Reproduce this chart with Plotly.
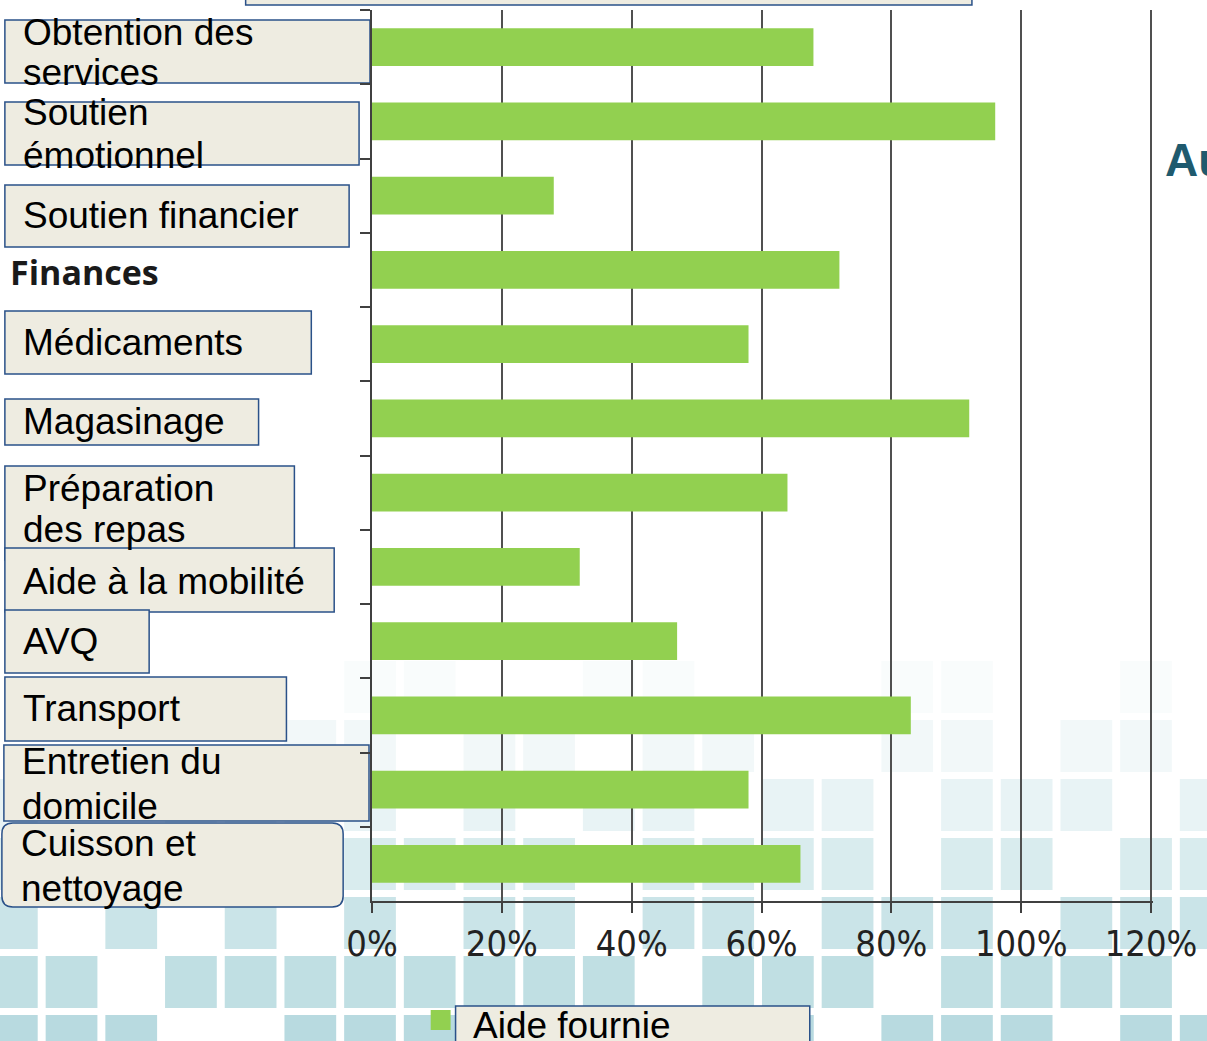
import plotly.graph_objects as go

# ---------------- data ----------------
categories = [
    "Obtention des<br>services",
    "Soutien<br>émotionnel",
    "Soutien financier",
    "Finances",
    "Médicaments",
    "Magasinage",
    "Préparation<br>des repas",
    "Aide à la mobilité",
    "AVQ",
    "Transport",
    "Entretien du<br>domicile",
    "Cuisson et<br>nettoyage",
]
values = [0.68, 0.96, 0.28, 0.72, 0.58, 0.92, 0.64, 0.32, 0.47, 0.83, 0.58, 0.66]
x_tick_values = [0, 0.2, 0.4, 0.6, 0.8, 1.0, 1.2]
x_tick_labels = ["0%", "20%", "40%", "60%", "80%", "100%", "120%"]
series_name = "Aide fournie"
side_text = "Au"

# ---------------- geometry helpers (pixels -> paper) ----------------
W, H = 1207, 1041
L, T, B = 372, 10, 901
R = 1157          # plot right edge (2px past the 120% gridline so it is kept)
X120 = 1155       # pixel of the 120% gridline
x_max = 1.2 * (R - L) / (X120 - L)


def px(x):
    return (x - L) / (R - L)


def py(y):
    return (B - y) / (B - T)


full_names = [c.replace("<br>", " ") for c in categories]

GREEN = "#92D050"
BOX_FILL = "#EEECE1"
BOX_LINE = "#2A5189"
AX = "#404040"

fig = go.Figure()
fig.add_trace(go.Bar(
    x=values, y=full_names, orientation="h",
    marker=dict(color=GREEN, line=dict(width=0)),
    name=series_name, showlegend=False, hoverinfo="skip",
))

shapes = []
annotations = []

# decorative background squares (slide template)
pattern = [
    "000000110011000110010",
    "000001101101100110110",
    "100111101011011011101",
    "110111111101111011011",
    "101010101101101110111",
    "110111111110111011110",
    "111001111101110111011",
]
row_op = [0.06, 0.12, 0.22, 0.36, 0.50, 0.60, 0.68]
for r, row in enumerate(pattern):
    for c, ch in enumerate(row):
        if ch == "1":
            x0 = -16 + 60 * c
            y0 = 661 + 59 * r
            shapes.append(dict(
                type="rect", xref="paper", yref="paper", layer="below",
                x0=px(x0), x1=px(x0 + 52), y0=py(y0), y1=py(y0 + 52),
                fillcolor="rgba(150,201,209,%.2f)" % row_op[r], line=dict(width=0),
            ))

# label layout: (box x0, x1, y0, y1, text x, line centers, rounded)
label_layout = [
    (3, 370, 20, 83, 19, [32, 72], False),
    (3, 359, 102, 165, 19, [112, 155], False),
    (3, 349, 185, 247, 19, [216], False),
    None,
    (3, 311, 311, 374, 19, [342], False),
    (3, 258, 399, 445, 19, [421], False),
    (3, 294, 466, 560, 19, [488, 529], False),
    (3, 334, 548, 612, 19, [581], False),
    (3, 148, 610, 673, 19, [641], False),
    (3, 286, 677, 741, 19, [708], False),
    (2, 369, 745, 821, 18, [762, 806], False),
    (0, 343, 823, 907, 17, [843, 888], True),
]

label_font = dict(family="Liberation Sans, Arial, sans-serif", size=37, color="#000000")


def rounded_path(x0, x1, y0, y1, rad):
    X = lambda v: "%.5f" % px(v)
    Y = lambda v: "%.5f" % py(v)
    return ("M {a},{b} L {c},{b} Q {d},{b} {d},{e} L {d},{f} Q {d},{g} {c},{g} "
            "L {a},{g} Q {h},{g} {h},{f} L {h},{e} Q {h},{b} {a},{b} Z").format(
        a=X(x0 + rad), b=Y(y0), c=X(x1 - rad), d=X(x1), e=Y(y0 + rad),
        f=Y(y1 - rad), g=Y(y1), h=X(x0))


for cat, spec in zip(categories, label_layout):
    lines = cat.split("<br>")
    if spec is None:
        annotations.append(dict(
            xref="paper", yref="paper", x=px(6), y=py(272), xanchor="left", yanchor="middle",
            text="<b>%s</b>" % cat, showarrow=False,
            font=dict(family="Open Sans, Liberation Sans, sans-serif", size=34, color="#1a1a1a"),
        ))
        continue
    bx0, bx1, by0, by1, tx, centers, rounded = spec
    if rounded:
        shapes.append(dict(type="path", xref="paper", yref="paper", layer="below",
                           path=rounded_path(bx0, bx1, by0, by1, 11),
                           fillcolor=BOX_FILL, line=dict(color=BOX_LINE, width=1.5)))
    else:
        shapes.append(dict(type="rect", xref="paper", yref="paper", layer="below",
                           x0=px(bx0), x1=px(bx1), y0=py(by1), y1=py(by0),
                           fillcolor=BOX_FILL, line=dict(color=BOX_LINE, width=1.5)))
    for ln, cy in zip(lines, centers):
        annotations.append(dict(
            xref="paper", yref="paper", x=px(tx), y=py(cy), xanchor="left", yanchor="middle",
            text=ln, showarrow=False, font=label_font,
        ))

# partial box at top (cut off by the frame)
shapes.append(dict(type="rect", xref="paper", yref="paper", layer="below",
                   x0=px(245), x1=px(975), y0=py(5), y1=py(-30),
                   fillcolor=BOX_FILL, line=dict(color=BOX_LINE, width=1.5)))

# legend (manual)
shapes.append(dict(type="rect", xref="paper", yref="paper", layer="below",
                   x0=px(431), x1=px(451), y0=py(1030), y1=py(1010),
                   fillcolor=GREEN, line=dict(width=0)))
shapes.append(dict(type="rect", xref="paper", yref="paper", layer="below",
                   x0=px(456), x1=px(812), y0=py(1070), y1=py(1006),
                   fillcolor=BOX_FILL, line=dict(color=BOX_LINE, width=1.5)))
annotations.append(dict(
    xref="paper", yref="paper", x=px(472), y=py(1025), xanchor="left", yanchor="middle",
    text=series_name, showarrow=False, font=label_font,
))

# cut-off side title
annotations.append(dict(
    xref="paper", yref="paper", x=px(1167), y=py(160), xanchor="left", yanchor="middle",
    text="<b>%s</b>" % side_text, showarrow=False,
    font=dict(family="Liberation Sans, Arial, sans-serif", size=46, color="#1F5A6E"),
))

fig.update_layout(
    width=W, height=H,
    margin=dict(l=L, r=W - R, t=T, b=H - B, pad=0),
    paper_bgcolor="white", plot_bgcolor="rgba(0,0,0,0)",
    bargap=0.49,
    showlegend=False,
    shapes=shapes, annotations=annotations,
    xaxis=dict(
        range=[0, x_max], tickvals=x_tick_values, ticktext=x_tick_labels,
        showgrid=True, gridcolor="#505050", gridwidth=2, zeroline=False,
        showline=True, linecolor=AX, linewidth=2,
        ticks="outside", ticklen=10, tickwidth=2, tickcolor=AX,
        tickfont=dict(family="DejaVu Sans Condensed, DejaVu Sans, sans-serif", size=36, color="#222222"),
        fixedrange=True,
    ),
    yaxis=dict(
        type="category", categoryorder="array", categoryarray=full_names,
        range=[len(full_names) - 0.5, -0.5],
        showticklabels=False, showgrid=False, zeroline=False,
        showline=True, linecolor=AX, linewidth=2,
        ticks="outside", ticklen=10, tickwidth=2, tickcolor=AX, tickson="boundaries",
        fixedrange=True,
    ),
)

fig.write_html(
    "out.html",
    config={"displayModeBar": False},
    post_script="document.body.style.margin='0';document.body.style.overflow='hidden';",
)
